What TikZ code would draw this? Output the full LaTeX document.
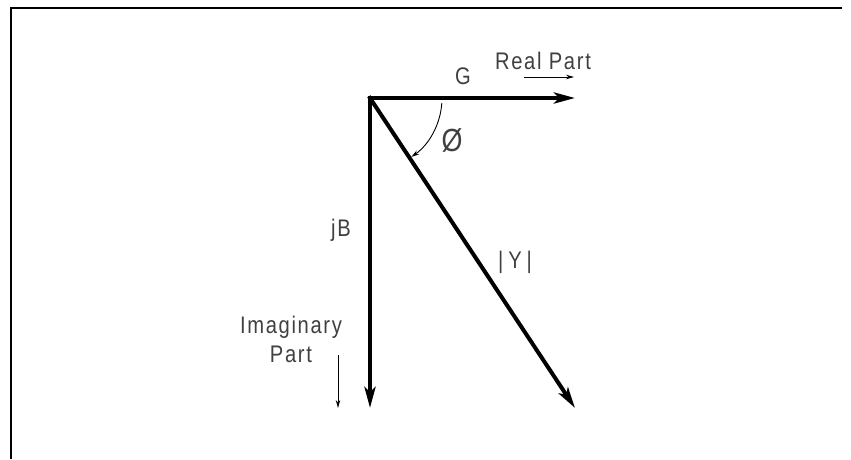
\documentclass[tikz,border=0pt]{standalone}
\usepackage{fontspec}
\setmainfont[LetterSpace=7, FakeStretch=0.84]{Liberation Sans}
\usetikzlibrary{positioning,arrows.meta}
\tikzset{
  vec/.style={-{Stealth[length=21pt,width=11pt,inset=5pt]}, line width=4pt, line cap=rect},
  hint/.style={-{Stealth[length=8pt,width=4.5pt]}, line width=0.9pt},
  lbl/.style={font=\fontsize{24}{29}\selectfont, text=black!75, inner sep=0pt, align=center},
}
\begin{document}
\begin{tikzpicture}[x=1pt,y=-1pt]
    \useasboundingbox (0,0) rectangle (851,459);
    \draw[line width=2pt] (11,459) -- (11,8) -- (842,8);
    \coordinate (O) at (370,98);
    \coordinate (Gtip) at (575,98);
    \coordinate (Btip) at (370,408);
    \coordinate (Ytip) at (575,408);
    \draw[vec] (O) -- (Gtip);
    \draw[vec] (O) -- (Btip);
    \draw[vec] (O) -- (Ytip);
    \node[lbl] (G) at (463,76) {G};
    \node[lbl] (real) at (543,61) {Real Part};
    \coordinate (realA) at (524,77);
    \coordinate (realB) at (574,77);
    \draw[hint] (realA) -- (realB);
    \coordinate (arcA) at ([shift={(4:72)}]O);
    \draw[hint] (arcA) arc[start angle=4, end angle=55, radius=72];
    \node[lbl, font=\fontsize{32}{32}\selectfont] (phi) at (452,140) {Ø};
    \node[lbl] (jB) at (341,230) {jB};
    \node[lbl] (Ymag) at (515,262) {|\hspace{5pt}Y\hspace{5pt}|};
    \node[lbl] (imag) at (291,339) {Imaginary\\Part};
    \coordinate (imagA) at (338,355);
    \coordinate (imagB) at (338,408);
    \draw[hint] (imagA) -- (imagB);
  \end{tikzpicture}
\end{document}
